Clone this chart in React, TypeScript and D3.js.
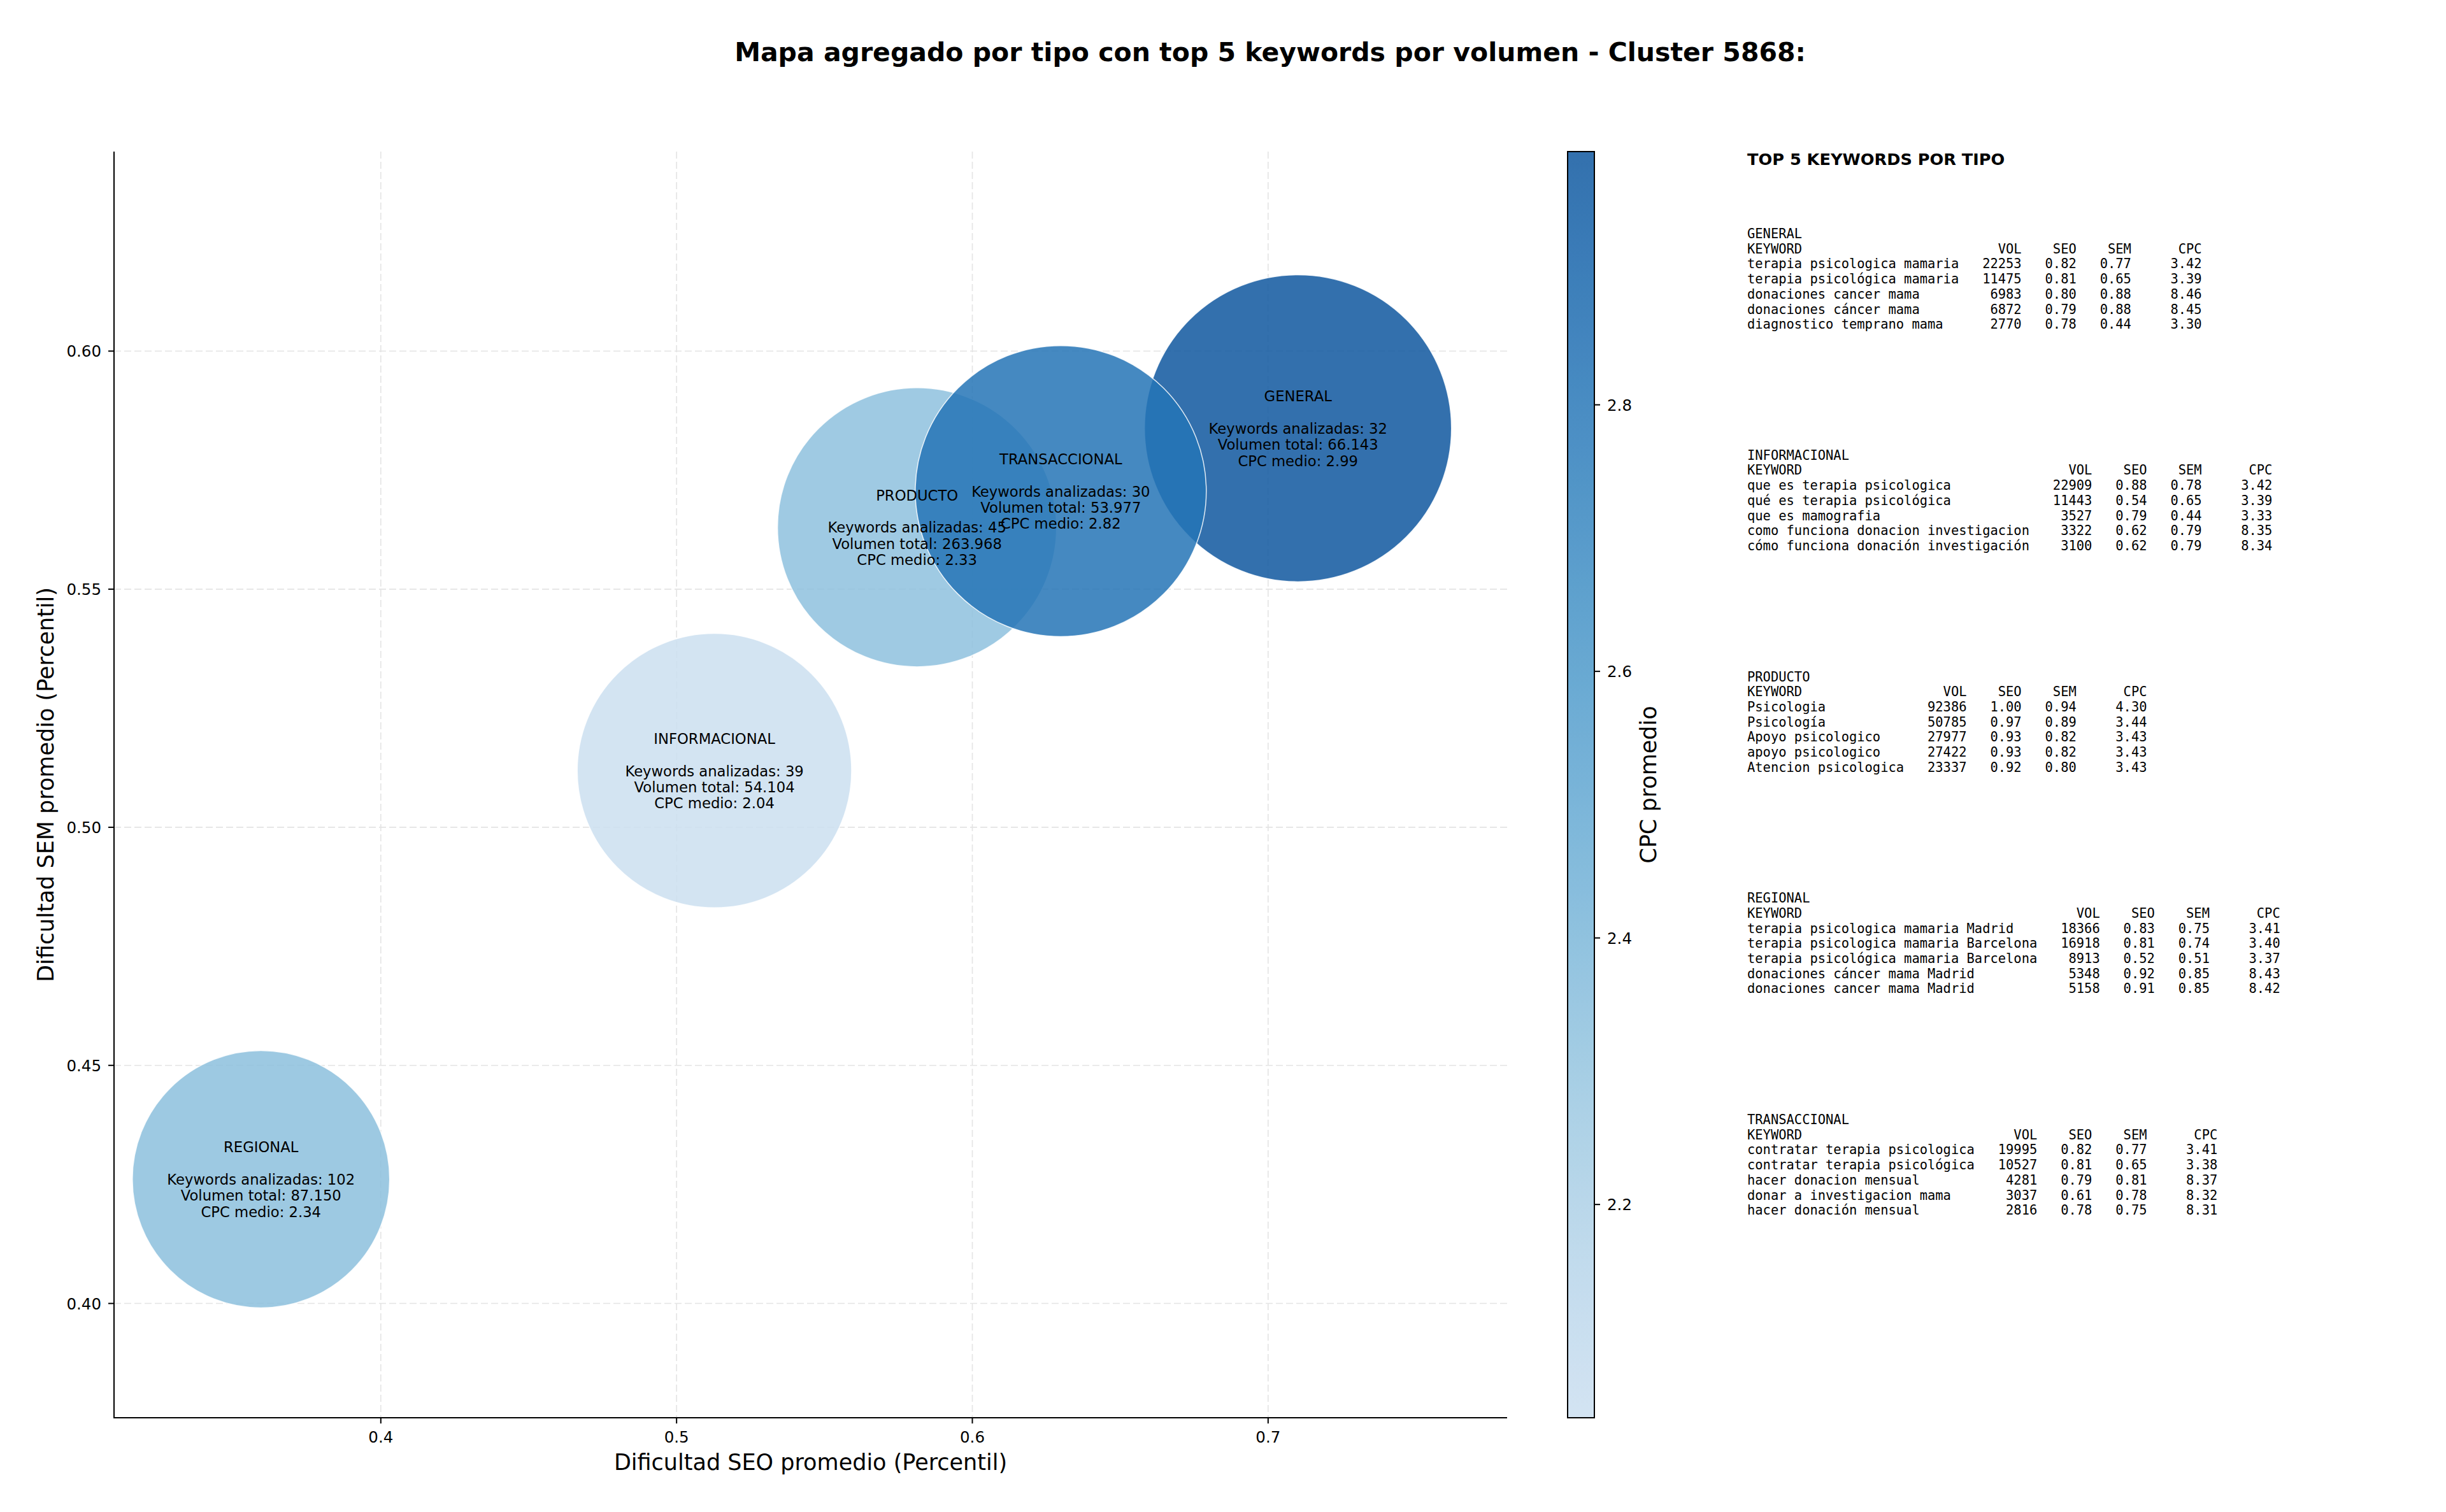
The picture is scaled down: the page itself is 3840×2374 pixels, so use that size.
import React from 'react';
import * as d3 from 'd3';

// ---------- DATA ----------
const categories = ['GENERAL', 'INFORMACIONAL', 'PRODUCTO', 'REGIONAL', 'TRANSACCIONAL'];
const seoAvg = [0.7101, 0.5128, 0.5813, 0.3595, 0.6299];
const semAvg = [0.5838, 0.5119, 0.5630, 0.4261, 0.5706];
const keywordCounts = [32, 39, 45, 102, 30];
const totalVolume = [66143, 54104, 263968, 87150, 53977];
const cpcAvg = [2.99, 2.04, 2.33, 2.34, 2.82];
const bubbleWeight = [58100, 46400, 48000, 40800, 52200];

const xTicks = [0.4, 0.5, 0.6, 0.7];
const yTicks = [0.40, 0.45, 0.50, 0.55, 0.60];
const cbTicks = [2.2, 2.4, 2.6, 2.8];

type Row = [string, number, number, number, number];
const generalTop: Row[] = [
  ['terapia psicologica mamaria', 22253, 0.82, 0.77, 3.42],
  ['terapia psicológica mamaria', 11475, 0.81, 0.65, 3.39],
  ['donaciones cancer mama', 6983, 0.80, 0.88, 8.46],
  ['donaciones cáncer mama', 6872, 0.79, 0.88, 8.45],
  ['diagnostico temprano mama', 2770, 0.78, 0.44, 3.30],
];
const informacionalTop: Row[] = [
  ['que es terapia psicologica', 22909, 0.88, 0.78, 3.42],
  ['qué es terapia psicológica', 11443, 0.54, 0.65, 3.39],
  ['que es mamografia', 3527, 0.79, 0.44, 3.33],
  ['como funciona donacion investigacion', 3322, 0.62, 0.79, 8.35],
  ['cómo funciona donación investigación', 3100, 0.62, 0.79, 8.34],
];
const productoTop: Row[] = [
  ['Psicologia', 92386, 1.00, 0.94, 4.30],
  ['Psicología', 50785, 0.97, 0.89, 3.44],
  ['Apoyo psicologico', 27977, 0.93, 0.82, 3.43],
  ['apoyo psicologico', 27422, 0.93, 0.82, 3.43],
  ['Atencion psicologica', 23337, 0.92, 0.80, 3.43],
];
const regionalTop: Row[] = [
  ['terapia psicologica mamaria Madrid', 18366, 0.83, 0.75, 3.41],
  ['terapia psicologica mamaria Barcelona', 16918, 0.81, 0.74, 3.40],
  ['terapia psicológica mamaria Barcelona', 8913, 0.52, 0.51, 3.37],
  ['donaciones cáncer mama Madrid', 5348, 0.92, 0.85, 8.43],
  ['donaciones cancer mama Madrid', 5158, 0.91, 0.85, 8.42],
];
const transaccionalTop: Row[] = [
  ['contratar terapia psicologica', 19995, 0.82, 0.77, 3.41],
  ['contratar terapia psicológica', 10527, 0.81, 0.65, 3.38],
  ['hacer donacion mensual', 4281, 0.79, 0.81, 8.37],
  ['donar a investigacion mama', 3037, 0.61, 0.78, 8.32],
  ['hacer donación mensual', 2816, 0.78, 0.75, 8.31],
];
const tableGroups: [string, Row[]][] = [
  ['GENERAL', generalTop],
  ['INFORMACIONAL', informacionalTop],
  ['PRODUCTO', productoTop],
  ['REGIONAL', regionalTop],
  ['TRANSACCIONAL', transaccionalTop],
];

const TITLE = 'Mapa agregado por tipo con top 5 keywords por volumen - Cluster 5868:';

// ---------- LAYOUT ----------
const W = 3840, H = 2374;
const plot = { left: 179, right: 2366, top: 238, bottom: 2226 };
const cb = { left: 2461, right: 2503 };
const SANS = 'DejaVu Sans, sans-serif';
const MONO = 'DejaVu Sans Mono, monospace';
const ALPHA = 0.85;

const x = d3.scaleLinear().domain([0.3098, 0.7808]).range([plot.left, plot.right]);
const y = d3.scaleLinear().domain([0.376, 0.6419]).range([plot.bottom, plot.top]);
const cpcExtent = d3.extent(cpcAvg) as [number, number];
const colorT = d3.scaleLinear().domain(cpcExtent).range([0.22, 0.85]);
const color = (v: number) => d3.interpolateBlues(colorT(v));
const r = d3.scaleSqrt().domain([0, d3.max(bubbleWeight) as number]).range([0, 241]);
const cbY = d3.scaleLinear().domain(cpcExtent).range([plot.bottom, plot.top]);

const volFmt = d3.formatLocale({ decimal: ',', thousands: '.', grouping: [3], currency: ['', ''] }).format(',d');

function tableLines(name: string, rows: Row[]): string[] {
  const w = d3.max(rows, (d) => d[0].length) as number;
  const lines = [name];
  lines.push('KEYWORD'.padEnd(w) + '  ' + 'VOL'.padStart(6) + 'SEO'.padStart(7) + 'SEM'.padStart(7) + 'CPC'.padStart(9));
  rows.forEach((d) => {
    lines.push(
      d[0].padEnd(w) + '  ' + String(d[1]).padStart(6) + d[2].toFixed(2).padStart(7) +
        d[3].toFixed(2).padStart(7) + d[4].toFixed(2).padStart(9)
    );
  });
  return lines;
}

export default function App() {
  const order = d3.range(categories.length);
  const gradStops = d3.range(0, 1.0001, 0.02);
  return (
    <svg width={W} height={H} style={{ position: 'absolute', left: 0, top: 0, background: '#fff' }}
      xmlns="http://www.w3.org/2000/svg">
      <defs>
        <linearGradient id="cbgrad" x1="0" y1="1" x2="0" y2="0">
          {gradStops.map((t, i) => (
            <stop key={i} offset={t} stopColor={color(cpcExtent[0] + t * (cpcExtent[1] - cpcExtent[0]))} stopOpacity={ALPHA} />
          ))}
        </linearGradient>
      </defs>
      <rect x={0} y={0} width={W} height={H} fill="#fff" />

      {/* title */}
      <text x={1994} y={96} textAnchor="middle" fontFamily={SANS} fontWeight="bold" fontSize={41}>{TITLE}</text>

      {/* grid */}
      <g stroke="#d9d9d9" strokeWidth={1.6} strokeDasharray="11,5" opacity={0.7}>
        {xTicks.map((t) => (
          <line key={'gx' + t} x1={x(t)} x2={x(t)} y1={plot.top} y2={plot.bottom} />
        ))}
        {yTicks.map((t) => (
          <line key={'gy' + t} x1={plot.left} x2={plot.right} y1={y(t)} y2={y(t)} />
        ))}
      </g>

      {/* bubbles */}
      <g>
        {order.map((i) => (
          <circle key={categories[i]} cx={x(seoAvg[i])} cy={y(semAvg[i])} r={r(bubbleWeight[i])}
            fill={color(cpcAvg[i])} fillOpacity={ALPHA} stroke="#fff" strokeOpacity={ALPHA} strokeWidth={1.5} />
        ))}
      </g>

      {/* bubble labels */}
      <g fontFamily={SANS} fontSize={22.7} textAnchor="middle" fill="#000">
        {order.map((i) => {
          const lines = [
            categories[i],
            '',
            `Keywords analizadas: ${keywordCounts[i]}`,
            `Volumen total: ${volFmt(totalVolume[i])}`,
            `CPC medio: ${cpcAvg[i].toFixed(2)}`,
          ];
          const cx = x(seoAvg[i]);
          const cy = y(semAvg[i]);
          return (
            <text key={'lbl' + i}>
              {lines.map((l, j) => (
                <tspan key={j} x={cx} y={cy + 8.6 + (j - 2) * 25.3}>{l}</tspan>
              ))}
            </text>
          );
        })}
      </g>

      {/* axes spines */}
      <g stroke="#000" strokeWidth={2}>
        <line x1={plot.left} x2={plot.left} y1={plot.top} y2={plot.bottom + 1} />
        <line x1={plot.left - 1} x2={plot.right} y1={plot.bottom} y2={plot.bottom} />
      </g>

      {/* x ticks */}
      <g fontFamily={SANS} fontSize={24.5} fill="#000">
        {xTicks.map((t) => (
          <g key={'xt' + t}>
            <line x1={x(t)} x2={x(t)} y1={plot.bottom} y2={plot.bottom + 9} stroke="#000" strokeWidth={2} />
            <text x={x(t)} y={plot.bottom + 39} textAnchor="middle">{d3.format('.1f')(t)}</text>
          </g>
        ))}
        {yTicks.map((t) => (
          <g key={'yt' + t}>
            <line x1={plot.left - 9} x2={plot.left} y1={y(t)} y2={y(t)} stroke="#000" strokeWidth={2} />
            <text x={plot.left - 20} y={y(t) + 9} textAnchor="end">{d3.format('.2f')(t)}</text>
          </g>
        ))}
      </g>

      {/* axis labels */}
      <text x={(plot.left + plot.right) / 2} y={2308} textAnchor="middle" fontFamily={SANS} fontSize={35}>
        Dificultad SEO promedio (Percentil)
      </text>
      <text transform={`translate(84,${(plot.top + plot.bottom) / 2}) rotate(-90)`} textAnchor="middle"
        fontFamily={SANS} fontSize={35}>
        Dificultad SEM promedio (Percentil)
      </text>

      {/* colorbar */}
      <rect x={cb.left} y={plot.top} width={cb.right - cb.left} height={plot.bottom - plot.top} fill="url(#cbgrad)" />
      <rect x={cb.left} y={plot.top} width={cb.right - cb.left} height={plot.bottom - plot.top} fill="none"
        stroke="#000" strokeWidth={2} />
      <g fontFamily={SANS} fontSize={24.5}>
        {cbTicks.map((t) => (
          <g key={'cb' + t}>
            <line x1={cb.right} x2={cb.right + 9} y1={cbY(t)} y2={cbY(t)} stroke="#000" strokeWidth={2} />
            <text x={cb.right + 20} y={cbY(t) + 9}>{d3.format('.1f')(t)}</text>
          </g>
        ))}
      </g>
      <text transform={`translate(2600,${(plot.top + plot.bottom) / 2}) rotate(-90)`} textAnchor="middle"
        fontFamily={SANS} fontSize={35}>
        CPC promedio
      </text>

      {/* keyword tables */}
      <text x={2743} y={259} fontFamily={SANS} fontWeight="bold" fontSize={25.6}>TOP 5 KEYWORDS POR TIPO</text>
      <g fontFamily={MONO} fontSize={20.45} fill="#000">
        {tableGroups.map(([name, rows], gi) => {
          const lines = tableLines(name, rows);
          const top = 374 + gi * 347.75;
          return (
            <text key={name} style={{ whiteSpace: 'pre' }}>
              {lines.map((l, j) => (
                <tspan key={j} x={2743} y={top + j * 23.7}>{l}</tspan>
              ))}
            </text>
          );
        })}
      </g>
    </svg>
  );
}
